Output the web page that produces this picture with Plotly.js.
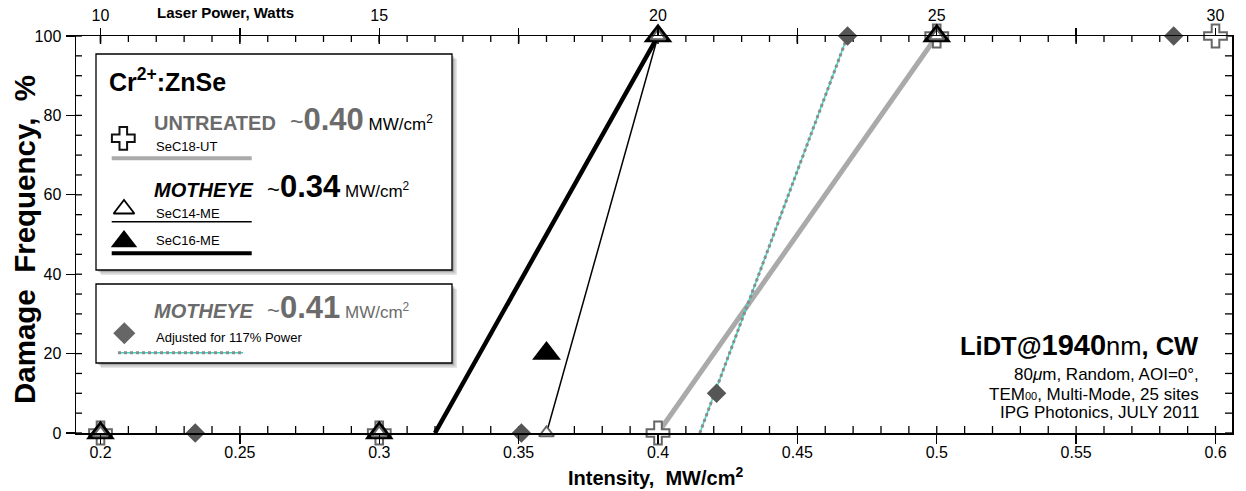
<!DOCTYPE html>
<html><head><meta charset="utf-8">
<script src="https://cdn.plot.ly/plotly-3.0.1.min.js"></script>
<style>html,body{margin:0;padding:0;background:#fff}</style>
</head><body><div id="chart" style="width:1246px;height:491px"></div>
<script>
// ---------- data ----------
const untreatedX = [0.2, 0.3, 0.4, 0.5, 0.6];
const untreatedY = [0, 0, 0, 100, 100];
const sec14X = [0.2, 0.3, 0.36, 0.4, 0.5];
const sec14Y = [0, 0, 0, 100, 100];
const sec16X = [0.2, 0.3, 0.36, 0.4, 0.5];
const sec16Y = [0, 0, 20, 100, 100];
const adjustedX = [0.234, 0.351, 0.421, 0.468, 0.585];
const adjustedY = [0, 0, 10, 100, 100];
const untreatedFitX = [0.4, 0.5], untreatedFitY = [0, 100];
const sec14FitX = [0.36, 0.4], sec14FitY = [0, 100];
const sec16FitX = [0.32, 0.4], sec16FitY = [0, 100];
const adjustedFitX = [0.415, 0.468], adjustedFitY = [0, 100];
const intensityTicks = [0.2, 0.25, 0.3, 0.35, 0.4, 0.45, 0.5, 0.55, 0.6];
const powerTicks = [10, 12.5, 15, 17.5, 20, 22.5, 25, 27.5, 30];
const powerTickLabels = ['10', '', '15', '', '20', '', '25', '', '30'];
const yTicks = [0, 20, 40, 60, 80, 100];
const wattsPerIntensity = 50;

// minor tick positions (axis decoration)
function steps(a, b, s) { const o = []; for (let i = 0; a + i * s <= b + 1e-9; i++) o.push(Math.round((a + i * s) * 1000) / 1000); return o; }
const intensityMinor = steps(0.2, 0.6, 0.01);
const powerMinor = steps(10, 30, 0.5);
const yMinor = steps(0, 100, 5);

// ---------- layout helpers ----------
const WD = 1246, HT = 491, L = 76, R = 14, T = 36, B = 58;
const PW = WD - L - R, PH = HT - T - B;
const fx = p => (p - L) / PW;
const fy = p => 1 - (p - T) / PH;
const onX = (rng, p) => rng[0] + fx(p) * (rng[1] - rng[0]);
const onY = (rng, p) => rng[0] + fy(p) * (rng[1] - rng[0]);
const FONT = 'Liberation Sans, Arial, Helvetica, sans-serif';
const xRange = [0.19121, 0.60592];
const powerRange = xRange.map(v => v * wattsPerIntensity);
const yRange = [0, 100];
const frac = (rng, v) => (v - rng[0]) / (rng[1] - rng[0]);
const GRAY = '#6b6b6b';

const traces = [
  {x: untreatedFitX, y: untreatedFitY, mode: 'lines', line: {color: '#aaaaaa', width: 5}},
  {x: sec16FitX, y: sec16FitY, mode: 'lines', line: {color: '#000', width: 4.5}},
  {x: sec14FitX, y: sec14FitY, mode: 'lines', line: {color: '#000', width: 1.5}},
  {x: adjustedFitX, y: adjustedFitY, mode: 'lines', line: {color: '#3dd6c3', width: 1.5}},
  {x: adjustedFitX, y: adjustedFitY, mode: 'lines', line: {color: '#8c8c8c', width: 3, dash: 'dot'}},
  {x: untreatedX, y: untreatedY, mode: 'markers', cliponaxis: false,
   marker: {symbol: 'cross', size: 19, color: '#fff', opacity: 1, line: {color: '#666', width: 2}}},
  {x: adjustedX, y: adjustedY, mode: 'markers', cliponaxis: false,
   marker: {symbol: 'diamond', size: 15, color: '#565656', opacity: 1, line: {width: 0}}},
  {x: sec16X, y: sec16Y, mode: 'markers', cliponaxis: false,
   marker: {symbol: 'triangle-up', size: 25, color: '#000', opacity: 1, line: {width: 0}}},
  {x: sec14X, y: sec14Y, mode: 'markers', cliponaxis: false,
   marker: {symbol: 'triangle-up', size: 13, color: '#fff', opacity: 1, line: {color: '#666', width: 2}}},
  // legend symbols (decorative), placed on the top axis so that axis is drawn
  {x: [onX(powerRange, 123.3), onX(powerRange, 124), onX(powerRange, 124), onX(powerRange, 124.3)],
   y: [onY(yRange, 138.3), onY(yRange, 209), onY(yRange, 241.5), onY(yRange, 333.3)],
   xaxis: 'x2', yaxis: 'y', mode: 'markers', cliponaxis: false,
   marker: {symbol: ['cross', 'triangle-up', 'triangle-up', 'diamond'], size: [19, 18, 23, 17], opacity: 1,
     color: ['#fff', '#fff', '#000', '#666'],
     line: {color: ['#111', '#000', '#000', '#666'], width: [2, 1.8, 0, 0]}}}
];
traces.forEach(t => { t.showlegend = false; t.hoverinfo = 'skip'; });

function box(x0, y0, x1, y1) {
  const s = [];
  [[5, 0.10], [3.5, 0.12], [2, 0.15]].forEach(([o, a]) => {
    s.push({type: 'rect', xref: 'paper', yref: 'paper', layer: 'below',
      x0: fx(x0 + o), x1: fx(x1 + o), y0: fy(y0 + o), y1: fy(y1 + o),
      fillcolor: 'rgba(0,0,0,' + a + ')', line: {width: 0}});
  });
  s.push({type: 'rect', xref: 'paper', yref: 'paper', layer: 'below',
    x0: fx(x0), x1: fx(x1), y0: fy(y0), y1: fy(y1),
    fillcolor: '#fff', line: {color: '#000', width: 1.3}});
  return s;
}
function hline(x0, x1, y, color, width, dash) {
  return {type: 'line', xref: 'paper', yref: 'paper', layer: 'below',
    x0: fx(x0), x1: fx(x1), y0: fy(y), y1: fy(y),
    line: {color: color, width: width, dash: dash || 'solid'}};
}
// inward tick marks along the frame (paper coordinates derived from the axis ranges)
function xTick(rng, v, atTop, len, w) {
  const p = frac(rng, v);
  return {type: 'line', xref: 'paper', yref: 'paper', layer: 'below', x0: p, x1: p,
    y0: atTop ? 1 : 0, y1: atTop ? 1 - len / PH : len / PH, line: {color: '#000', width: w}};
}
function yTick(v, atRight, len, w) {
  const p = frac(yRange, v);
  return {type: 'line', xref: 'paper', yref: 'paper', layer: 'below', y0: p, y1: p,
    x0: atRight ? 1 : 0, x1: atRight ? 1 - len / PW : len / PW, line: {color: '#000', width: w}};
}
const tickShapes = [].concat(
  intensityMinor.map(v => xTick(xRange, v, false, 7, 1.3)),
  powerMinor.map(v => xTick(powerRange, v, true, 6, 1.3)),
  powerTicks.map(v => xTick(powerRange, v, true, 8, 1.5)),
  yMinor.map(v => yTick(v, false, 6, 1.3)),
  yMinor.map(v => yTick(v, true, 7, 1.3))
);
const shapes = [].concat(
  tickShapes,
  box(96, 54, 452, 270),
  box(96, 284, 452, 363),
  [hline(111.7, 251.7, 158.3, '#aaaaaa', 4),
   hline(111.7, 251.7, 221.7, '#000', 1.5),
   hline(111.7, 251.7, 253.3, '#000', 4),
   hline(118, 243, 352.7, '#3dd6c3', 1.5),
   hline(118, 243, 352.7, '#8c8c8c', 3, 'dot')]
);

function ann(text, x, y, size, xanchor, extra) {
  return Object.assign({text: text, xref: 'paper', yref: 'paper', x: fx(x), y: fy(y),
    xanchor: xanchor || 'left', yanchor: 'middle', showarrow: false,
    font: {family: FONT, size: size, color: '#000'}}, extra || {});
}
const NB = '\u00a0';
const annotations = [
  ann('<b>Cr<sup>2+</sup>:ZnSe</b>', 107, 80, 25),
  ann('<b><span style="font-size:20px;color:' + GRAY + '">UNTREATED</span></b>' + NB + NB + NB +
      '<span style="font-size:23px;color:' + GRAY + '">~</span><b><span style="font-size:31px;color:' + GRAY + '">0.40</span></b>' + NB +
      'MW/cm<sup>2</sup>', 152, 119, 17),
  ann('SeC18-UT', 154, 146, 13),
  ann('<b><i><span style="font-size:20px">MOTHEYE</span></i></b>' + NB + NB + NB +
      '<span style="font-size:22px">~</span><b><span style="font-size:31px">0.34</span></b>' + NB +
      'MW/cm<sup>2</sup>', 152, 186, 17),
  ann('SeC14-ME', 154, 213, 13),
  ann('SeC16-ME', 154, 241, 13),
  ann('<b><i><span style="font-size:20px">MOTHEYE</span></i></b>' + NB + NB + NB +
      '<span style="font-size:22px">~</span><b><span style="font-size:31px">0.41</span></b>' + NB +
      'MW/cm<sup>2</sup>', 152, 307, 17, 'left', {font: {family: FONT, size: 17, color: GRAY}}),
  ann('Adjusted for 117% Power', 154, 337, 13),
  ann('<b>LiDT@</b><b><span style="font-size:29px">1940</span></b>nm<b>, CW</b>', 1201, 345, 25.5, 'right'),
  ann('80<i>μ</i>m, Random, AOI=0°,', 1201, 374, 17, 'right'),
  ann('TEM<span style="font-size:11px">00</span>, Multi-Mode, 25 sites', 1201, 394, 17, 'right'),
  ann('IPG Photonics, JULY 2011', 1201, 412, 17, 'right'),
  ann('<b>Laser Power, Watts</b>', 225, 13, 15, 'center'),
  ann('<b>Intensity,' + NB + NB + 'MW/cm<sup>2</sup></b>', 655, 476, 20, 'center'),
  ann('<b>Damage' + NB + NB + 'Frequency,' + NB + NB + '%</b>', 24, 240, 29.5, 'center', {textangle: -90})
];

const tickFont = {family: FONT, size: 16, color: '#000'};
const noGrid = {showgrid: false, zeroline: false};
const layout = {
  width: WD, height: HT,
  margin: {l: L, r: R, t: T, b: B, pad: 0},
  paper_bgcolor: '#fff', plot_bgcolor: 'rgba(0,0,0,0)',
  showlegend: false,
  font: {family: FONT, color: '#000'},
  xaxis: Object.assign({range: xRange, showline: true, linecolor: '#000', linewidth: 1.5,
    tickmode: 'array', tickvals: intensityTicks, ticks: 'outside', ticklen: 9, tickwidth: 1.3, tickcolor: '#000',
    tickfont: tickFont, ticklabelstandoff: -5}, noGrid),
  xaxis2: Object.assign({overlaying: 'x', side: 'top', anchor: 'y', range: powerRange,
    showline: true, linecolor: '#000', linewidth: 1.5,
    tickmode: 'array', tickvals: powerTicks, ticktext: powerTickLabels,
    ticks: 'outside', ticklen: 7, tickwidth: 1.3, tickcolor: '#000', tickfont: tickFont}, noGrid),
  yaxis: Object.assign({range: yRange, showline: true, mirror: true, linecolor: '#000', linewidth: 1.5,
    tickmode: 'array', tickvals: yTicks, ticks: 'outside', ticklen: 9, tickwidth: 1.3, tickcolor: '#000',
    tickfont: tickFont, ticklabelstandoff: 1}, noGrid),
  shapes: shapes,
  annotations: annotations
};
Plotly.newPlot('chart', traces, layout, {staticPlot: true, displayModeBar: false});
</script></body></html>
